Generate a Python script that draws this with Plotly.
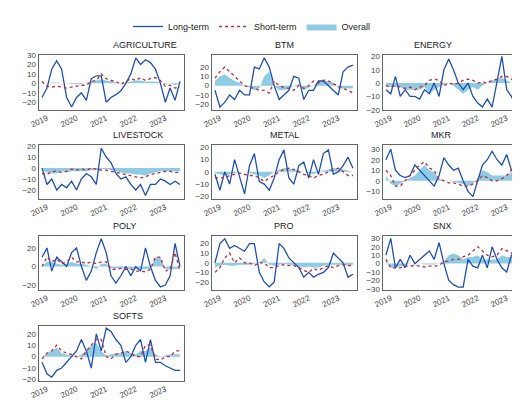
import plotly.graph_objects as go
import pandas as pd

dates = pd.date_range("2018-11-01", periods=29, freq="2MS")

names = ["AGRICULTURE", "BTM", "ENERGY", "LIVESTOCK", "METAL", "MKR",
         "POLY", "PRO", "SNX", "SOFTS"]

long_term = {
    "AGRICULTURE": [-15, -5, 15, 24, 15, -15, -25, -15, -10, -18, 5, 8, 8, -20, -15, -12, -8, 0, 10, 27, 20, 25, 22, 15, 0, -20, -5, -18, 2],
    "BTM": [-5, -23, -18, -10, -15, -5, -10, -10, 20, 18, 30, 20, 0, -15, -10, -5, 10, 8, -15, -5, -5, 5, 5, 0, -5, -10, 15, 20, 22],
    "ENERGY": [-5, -8, 5, -10, -5, -10, -10, -12, -5, -8, 0, -10, 10, 18, 10, 0, -5, 0, -10, -15, -18, -12, -18, 0, 20, -5, -10, -18, 0],
    "LIVESTOCK": [0, -15, -10, -20, -15, -18, -12, -20, -10, -5, -8, -15, 18, 10, 5, -5, -10, -8, -15, -20, -15, -25, -15, -15, -10, -12, -15, -12, -15],
    "METAL": [-2, -15, 0, -10, 10, -5, -18, 5, 15, -8, -10, -15, -5, 10, 18, -5, -10, 5, 8, -5, 10, -2, 15, 18, -2, 0, 5, 12, 3],
    "MKR": [20, 30, 10, 5, 3, 5, 15, 10, 5, 0, -5, 5, 22, 15, 10, 12, 0, -10, -15, 0, 15, 20, 28, 20, 15, 25, 10, 15, 5],
    "POLY": [10, 20, -5, 10, 5, 0, 15, 20, 0, -15, -5, 15, 30, 15, -10, -18, -10, 0, -10, 0, -5, 20, 0, -15, -22, -20, -10, 25, 0],
    "PRO": [0, 20, 25, 15, 18, 15, 12, 20, 20, -10, -20, -25, -20, 20, 15, 5, 0, -5, -15, -10, -15, -12, -10, -5, 10, 5, 0, -15, -12],
    "SNX": [10, 30, -5, 5, -5, 10, 0, 5, 10, 15, 5, 25, 0, -20, -25, -28, -28, 5, -3, -5, 10, -5, 20, 5, -5, -10, 10, 5, 15],
    "SOFTS": [-5, -15, -18, -12, -10, -5, 0, 5, 15, 5, -10, 20, 5, 25, 22, 15, 10, -5, 0, 10, 15, -5, 15, -5, -5, -8, -10, -12, -12],
}
short_term = {
    "AGRICULTURE": [2, -3, -4, -3, -4, -5, -4, -3, -2, -2, 2, 3, 10, 5, 3, 2, -1, 2, 5, 3, 6, 3, 5, 6, 3, -3, -2, -5, -4],
    "BTM": [8, 15, 20, 15, 10, 5, 0, -2, -3, -5, -5, -8, 5, 0, -2, -3, -5, 0, -3, 0, 5, 3, 6, 5, 2, 0, -3, -5, -8],
    "ENERGY": [-2, -3, -2, -3, -4, -3, -5, -3, -2, 2, 3, 2, -2, 0, -1, 0, 2, 3, 2, 0, 1, 0, 2, 3, 5, 5, 3, 2, 1],
    "LIVESTOCK": [-5, -6, -3, -3, -4, -3, -1, -2, -1, -2, 0, -1, -2, -2, -3, -4, -5, -6, -7, -8, -9, -8, -6, -5, -4, -3, -3, -4, -4],
    "METAL": [-5, -5, -5, -3, -2, -1, -2, -3, -3, -5, -8, -5, -3, 0, 2, 3, 2, 0, -2, -3, -5, -3, -2, 0, 2, 3, 0, -3, -3],
    "MKR": [10, 5, -5, -5, 0, 5, 10, 15, 18, 12, 10, 2, 0, -2, -2, -3, -5, -5, -3, 0, 5, 3, 0, 0, 2, 5, 10, 15, 25],
    "POLY": [0, 10, 5, 8, 3, 5, 10, 5, 5, 3, 5, 3, 5, 5, -3, -3, -2, -3, -3, -5, -5, -6, -3, 10, 10, -5, -3, 15, -5],
    "PRO": [-10, -5, 5, 10, 0, 5, 0, 0, -3, 0, 0, -5, -5, -3, -2, -3, -3, -5, -8, -10, -6, -8, -5, -3, -5, -3, -2, -3, -3],
    "SNX": [5, -5, -5, -5, -3, -3, -2, -3, -4, -3, -3, -2, 2, 3, 5, 5, 8, 10, 15, 20, 15, 10, 8, 10, 18, 15, 12, 10, 12],
    "SOFTS": [-2, 3, 5, 10, 5, 3, 2, 0, -2, 5, 10, 15, 15, 0, -2, 2, 3, 5, 3, 0, 0, 10, 10, -2, -3, 0, 0, 5, 5],
}
overall = {
    "AGRICULTURE": [0, 0, 1, 1, 0, 0, -1, -1, -1, 1, 2, 3, 4, 3, 2, 1, 0, 1, 2, 3, 3, 2, 2, 2, 1, -1, 0, -2, 0],
    "BTM": [5, 10, 12, 8, 5, 3, 0, -2, -5, -3, 10, 15, 0, -5, -5, -3, 0, 2, -5, -2, 0, 5, 5, 5, 3, -3, -3, -3, -3],
    "ENERGY": [-2, -3, -3, -3, -5, -5, -5, -5, -3, -8, -5, -3, -1, 0, -2, -5, -8, -5, -3, -5, -2, 0, 2, 3, 4, 2, 0, 0, 0],
    "LIVESTOCK": [-2, -4, -5, -5, -3, -4, -3, -3, -3, -3, -2, -2, -1, -1, -2, -3, -4, -5, -5, -6, -6, -7, -5, -4, -3, -3, -3, -3, -3],
    "METAL": [-1, -2, -3, -2, -1, 0, 0, -1, -2, -3, -5, -3, 0, 2, 3, 3, 2, 1, 0, -1, -2, 0, 1, 2, 3, 3, 2, 1, 0],
    "MKR": [5, -3, -5, -3, 0, 3, 5, 10, 15, 10, 8, 2, 0, 0, -1, -2, -3, -5, -3, 3, 10, 8, 5, 5, 5, 5, 8, 10, 5],
    "POLY": [0, 5, 5, 3, 2, 3, 5, 3, 3, 2, 0, -3, 3, 3, -2, -2, -2, -2, -3, -3, -3, -3, -3, 10, 10, -3, -3, -3, -2],
    "PRO": [-5, -3, -2, -3, -3, -2, -2, -2, -1, 0, 5, -2, -3, -2, -1, -2, -3, -4, -5, -4, -5, -5, -3, -2, -2, -2, -2, -3, -2],
    "SNX": [3, -5, -5, -3, -2, 0, 0, 0, -1, -1, -1, 0, 3, 10, 12, 10, 5, 8, 8, 10, 5, 5, 5, 5, 10, 8, 8, 5, 5],
    "SOFTS": [0, 3, 5, 8, 3, 2, 1, 0, 2, 5, 10, 12, 5, 1, 2, 3, 3, 5, 3, 2, 5, 5, 8, 2, 0, 1, 2, 2, 2],
}
y_ranges = {
    "AGRICULTURE": ([-28, 30], [-20, -10, 0, 10, 20, 30]),
    "BTM": ([-26, 33], [-20, -10, 0, 10, 20]),
    "ENERGY": ([-20, 21], [-20, -10, 0, 10, 20]),
    "LIVESTOCK": ([-28, 21], [-20, -10, 0, 10, 20]),
    "METAL": ([-22, 22], [-20, -10, 0, 10, 20]),
    "MKR": ([-17, 34], [-10, 0, 10, 20, 30]),
    "POLY": ([-25, 33], [-20, 0, 20]),
    "PRO": ([-28, 28], [-20, -10, 0, 10, 20]),
    "SNX": ([-31, 33], [-30, -20, -10, 0, 10, 20, 30]),
    "SOFTS": ([-21, 27], [-20, -10, 0, 10, 20]),
}

W, H = 520, 403
cols_px = [(22, 170), (198, 346), (372, 517)]
rows_px = [(44, 100), (136, 191), (229, 284), (321, 377)]

fig = go.Figure()
layout = {}
for i, name in enumerate(names):
    r, c = divmod(i, 3)
    k = "" if i == 0 else str(i + 1)
    xa, ya = "x" + k, "y" + k
    first = i == 0
    fig.add_trace(go.Scatter(x=dates, y=overall[name], xaxis=xa, yaxis=ya,
                             mode="lines", fill="tozeroy", line=dict(width=0, color="#8fcbe3"),
                             fillcolor="#8fcbe3", name="Overall", legendrank=3,
                             showlegend=first))
    fig.add_trace(go.Scatter(x=dates, y=long_term[name], xaxis=xa, yaxis=ya,
                             mode="lines", line=dict(width=1.3, color="#1f4fb4"),
                             name="Long-term", legendrank=1, showlegend=first))
    fig.add_trace(go.Scatter(x=dates, y=short_term[name], xaxis=xa, yaxis=ya,
                             mode="lines", line=dict(width=1.3, color="#c0283a", dash="dot"),
                             name="Short-term", legendrank=2, showlegend=first))
    x0, x1 = cols_px[c]
    y0, y1 = rows_px[r]
    rng, tv = y_ranges[name]
    layout["xaxis" + k] = dict(domain=[x0 / W, x1 / W], anchor=ya,
                               range=["2018-09-20", "2023-08-20"],
                               tickvals=["2019-01-01", "2020-01-01", "2021-01-01", "2022-01-01", "2023-01-01"],
                               ticktext=["2019", "2020", "2021", "2022", "2023"],
                               tickangle=-25, showgrid=False, zeroline=False,
                               showline=True, mirror=True, linecolor="#666", linewidth=1,
                               tickfont=dict(size=8, color="#444"), ticks="")
    layout["yaxis" + k] = dict(domain=[1 - y1 / H, 1 - y0 / H], anchor=xa,
                               range=rng, tickvals=tv, showgrid=False, zeroline=False,
                               showline=True, mirror=True, linecolor="#666", linewidth=1,
                               tickfont=dict(size=8, color="#444"), ticks="")
    fig.add_annotation(text=name, x=(x0 + x1) / 2 / W, y=1 - (y0 - 3) / H,
                       xref="paper", yref="paper", showarrow=False,
                       yanchor="bottom", font=dict(size=9, color="#222"))

fig.update_layout(width=W, height=H, margin=dict(l=0, r=0, t=0, b=0),
                  paper_bgcolor="white", plot_bgcolor="white",
                  font=dict(family="Liberation Sans, Arial", color="#222"),
                  legend=dict(orientation="h", x=0.46, y=1.0, xanchor="center", yanchor="top",
                              font=dict(size=9), itemwidth=30, tracegroupgap=0),
                  **layout)
fig.write_html("out.html")
